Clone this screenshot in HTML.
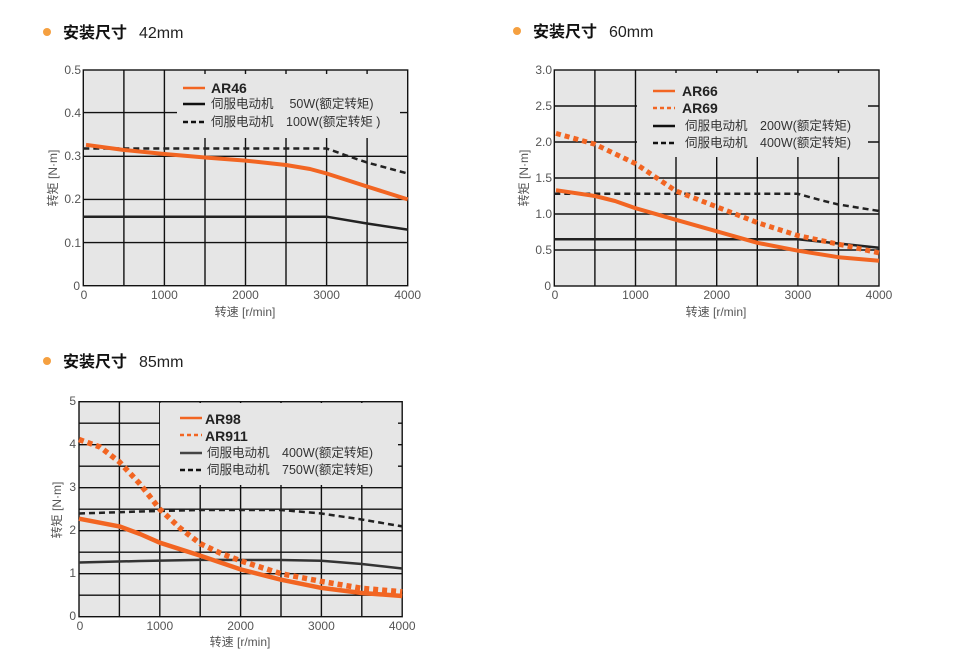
<!DOCTYPE html>
<html><head><meta charset="utf-8"><style>
html,body{margin:0;padding:0;background:#fff;}
svg{display:block;}
text{font-family:"Liberation Sans","Noto Sans CJK SC",sans-serif;}
.t{font-size:12px;fill:#555;}
.h{font-size:16px;font-weight:bold;fill:#111;}
.hm{font-size:16px;fill:#222;}
.lg{font-size:12.5px;fill:#333;}
.lb{font-size:14px;font-weight:bold;fill:#222;}
.g{stroke:#111;stroke-width:1.4;fill:none;}
</style></head><body>
<svg width="959" height="660" viewBox="0 0 959 660" xmlns="http://www.w3.org/2000/svg">
<circle cx="47" cy="32" r="4" fill="#f5a040"/>
<text x="63" y="38" class="h">安装尺寸</text><text x="139" y="38" class="hm">42mm</text>
<circle cx="517" cy="31" r="4" fill="#f5a040"/>
<text x="533" y="37" class="h">安装尺寸</text><text x="609" y="37" class="hm">60mm</text>
<circle cx="47" cy="361" r="4" fill="#f5a040"/>
<text x="63" y="367" class="h">安装尺寸</text><text x="139" y="367" class="hm">85mm</text>

<!-- ===== Chart 1 ===== -->
<rect x="83.3" y="70" width="324.4" height="215.7" fill="#e6e6e6"/>
<g class="g">
<path d="M123.9 70V285.7M164.4 70V285.7M205 70V285.7M245.5 70V285.7M286 70V285.7M326.6 70V285.7M367.1 70V285.7"/>
<path d="M83.3 112.6H407.7M83.3 156.3H407.7M83.3 199.4H407.7M83.3 242.6H407.7"/>
</g>
<rect x="177" y="74" width="223" height="64" fill="#e6e6e6"/>
<rect x="83.3" y="70" width="324.4" height="215.7" class="g"/>
<polyline points="83.3,216.7 326.6,216.7 367,223.5 407.7,229.6" fill="none" stroke="#222" stroke-width="2.5"/>
<polyline points="83.3,148.5 326.6,148.5 345,155 367,162.5 407.7,173.5" fill="none" stroke="#222" stroke-width="2.5" stroke-dasharray="6,4"/>
<polyline points="86,144.8 124,150 164.4,154 205,157.5 245.5,160.6 286,165 310,169 326.6,173.5 367,186.5 407.7,199.4" fill="none" stroke="#f26522" stroke-width="4" stroke-linejoin="round"/>
<line x1="183" y1="88" x2="205" y2="88" stroke="#f26522" stroke-width="2.5"/>
<text x="211" y="93" class="lb">AR46</text>
<line x1="183" y1="104" x2="205" y2="104" stroke="#111" stroke-width="2.5"/>
<text x="211" y="108" class="lg">伺服电动机　 50W(额定转矩)</text>
<line x1="183" y1="122" x2="205" y2="122" stroke="#111" stroke-width="2.5" stroke-dasharray="5,3"/>
<text x="211" y="126" class="lg">伺服电动机　100W(额定转矩 )</text>
<g class="t" text-anchor="end">
<text x="81" y="74">0.5</text><text x="81" y="117">0.4</text><text x="81" y="160">0.3</text><text x="81" y="203">0.2</text><text x="81" y="247">0.1</text><text x="80" y="290">0</text>
</g>
<g class="t" text-anchor="middle">
<text x="84" y="299">0</text><text x="164.4" y="299">1000</text><text x="245.5" y="299">2000</text><text x="326.6" y="299">3000</text><text x="407.7" y="299">4000</text>
</g>
<text x="245" y="316" class="t" text-anchor="middle">转速  [r/min]</text>
<text transform="translate(57,178) rotate(-90)" class="t" text-anchor="middle">转矩 [N·m]</text>

<!-- ===== Chart 2 ===== -->
<rect x="554.3" y="70" width="324.7" height="216" fill="#e6e6e6"/>
<g class="g">
<path d="M594.9 70V286M635.5 70V286M676 70V286M716.7 70V286M757.3 70V286M797.9 70V286M838.5 70V286"/>
<path d="M554.3 106H879M554.3 142H879M554.3 178H879M554.3 214H879M554.3 250H879"/>
</g>
<rect x="637" y="73" width="231" height="84" fill="#e6e6e6"/>
<rect x="554.3" y="70" width="324.7" height="216" class="g"/>
<polyline points="554.3,239.2 797.9,239.2 838.5,243.5 879,247.8" fill="none" stroke="#222" stroke-width="2.5"/>
<polyline points="554.3,193.8 797.9,193.8 820,200 838.5,204.5 879,211" fill="none" stroke="#222" stroke-width="2.5" stroke-dasharray="6,4"/>
<polyline points="556,190.2 594.9,196 615,201 635.5,208.2 676,219.8 716.7,231.3 757.3,242.8 797.9,250.7 838.5,257.2 879,260.8" fill="none" stroke="#f26522" stroke-width="4" stroke-linejoin="round"/>
<polyline points="556,133.4 594.9,144.2 635.5,163.6 676,191 716.7,206.8 757.3,222.6 797.9,235.6 838.5,244.2 879,252.9" fill="none" stroke="#f26522" stroke-width="5" stroke-dasharray="5,4"/>
<line x1="653" y1="91" x2="675" y2="91" stroke="#f26522" stroke-width="2.5"/>
<text x="682" y="96" class="lb">AR66</text>
<line x1="653" y1="108" x2="675" y2="108" stroke="#f26522" stroke-width="2.5" stroke-dasharray="4,3"/>
<text x="682" y="113" class="lb">AR69</text>
<line x1="653" y1="126" x2="675" y2="126" stroke="#111" stroke-width="2.5"/>
<text x="685" y="130" class="lg">伺服电动机　200W(额定转矩)</text>
<line x1="653" y1="143" x2="675" y2="143" stroke="#111" stroke-width="2.5" stroke-dasharray="5,3"/>
<text x="685" y="147" class="lg">伺服电动机　400W(额定转矩)</text>
<g class="t" text-anchor="end">
<text x="552" y="74">3.0</text><text x="552" y="110">2.5</text><text x="552" y="146">2.0</text><text x="552" y="182">1.5</text><text x="552" y="218">1.0</text><text x="552" y="254">0.5</text><text x="551" y="290">0</text>
</g>
<g class="t" text-anchor="middle">
<text x="555" y="299">0</text><text x="635.5" y="299">1000</text><text x="716.7" y="299">2000</text><text x="797.9" y="299">3000</text><text x="879" y="299">4000</text>
</g>
<text x="716" y="316" class="t" text-anchor="middle">转速  [r/min]</text>
<text transform="translate(528,178) rotate(-90)" class="t" text-anchor="middle">转矩 [N·m]</text>

<!-- ===== Chart 3 ===== -->
<rect x="79" y="401.7" width="323.2" height="215" fill="#e6e6e6"/>
<g class="g">
<path d="M119.4 401.7V616.7M159.8 401.7V616.7M200.2 401.7V616.7M240.6 401.7V616.7M281 401.7V616.7M321.4 401.7V616.7M361.8 401.7V616.7"/>
<path d="M79 423.2H402.2M79 444.7H402.2M79 466.2H402.2M79 487.7H402.2M79 509.2H402.2M79 530.7H402.2M79 552.2H402.2M79 573.7H402.2M79 595.2H402.2"/>
</g>
<rect x="160" y="403" width="238" height="82" fill="#e6e6e6"/>
<rect x="79" y="401.7" width="323.2" height="215" class="g"/>
<polyline points="79,562.5 140,561 200.2,559.9 281,560 321.4,560.8 361.8,564 402.2,568.5" fill="none" stroke="#333" stroke-width="2.5"/>
<polyline points="79,513.5 140,511.5 200.2,510 281,510 321.4,513.5 361.8,519.5 402.2,526.4" fill="none" stroke="#222" stroke-width="2.5" stroke-dasharray="6,4"/>
<polyline points="79,518.7 119.4,526.4 140,534 159.8,542.7 200.2,555.6 240.6,569.4 281,579.7 321.4,587.9 361.8,593 402.2,596" fill="none" stroke="#f26522" stroke-width="4.5" stroke-linejoin="round"/>
<polyline points="79,439.5 100,447 119.4,461.9 140,484 159.8,509.2 180,528 200.2,543.6 220,553 240.6,560.8 281,573.7 321.4,581.4 361.8,588.3 402.2,591.8" fill="none" stroke="#f26522" stroke-width="5.5" stroke-dasharray="5,4"/>
<line x1="180" y1="418" x2="202" y2="418" stroke="#f26522" stroke-width="2.5"/>
<text x="205" y="424" class="lb">AR98</text>
<line x1="180" y1="435" x2="202" y2="435" stroke="#f26522" stroke-width="2.5" stroke-dasharray="4,3"/>
<text x="205" y="441" class="lb">AR911</text>
<line x1="180" y1="453" x2="202" y2="453" stroke="#444" stroke-width="2.5"/>
<text x="207" y="457" class="lg">伺服电动机　400W(额定转矩)</text>
<line x1="180" y1="470" x2="202" y2="470" stroke="#111" stroke-width="2.5" stroke-dasharray="5,3"/>
<text x="207" y="474" class="lg">伺服电动机　750W(额定转矩)</text>
<g class="t" text-anchor="end">
<text x="76" y="405">5</text><text x="76" y="448">4</text><text x="76" y="491">3</text><text x="76" y="534">2</text><text x="76" y="577">1</text><text x="76" y="620">0</text>
</g>
<g class="t" text-anchor="middle">
<text x="80" y="630">0</text><text x="159.8" y="630">1000</text><text x="240.6" y="630">2000</text><text x="321.4" y="630">3000</text><text x="402.2" y="630">4000</text>
</g>
<text x="240" y="646" class="t" text-anchor="middle">转速  [r/min]</text>
<text transform="translate(61,510) rotate(-90)" class="t" text-anchor="middle">转矩 [N·m]</text>
</svg>
</body></html>
